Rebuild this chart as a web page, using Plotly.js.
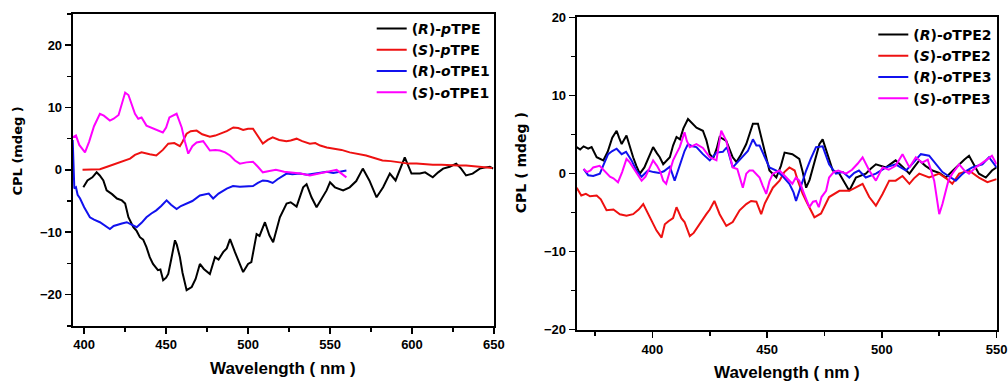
<!DOCTYPE html>
<html>
<head>
<meta charset="utf-8">
<script src="https://cdn.plot.ly/plotly-3.0.1.min.js"></script>
<style>html,body{margin:0;padding:0;background:#fff;}#chart{width:1008px;height:382px;}</style>
</head>
<body>
<div id="chart"></div>
<script>
// ---------- Legend names ----------
const seriesNamesLeft = ['(<i>R</i>)-<i>p</i>TPE', '(<i>S</i>)-<i>p</i>TPE', '(<i>R</i>)-<i>o</i>TPE1', '(<i>S</i>)-<i>o</i>TPE1'];
const seriesNamesRight = ['(<i>R</i>)-<i>o</i>TPE2', '(<i>S</i>)-<i>o</i>TPE2', '(<i>R</i>)-<i>o</i>TPE3', '(<i>S</i>)-<i>o</i>TPE3'];

// ---------- Left panel data ----------
const rpTPE_x = [399.5,402,405,407.6,409.5,411.7,413.7,417,420,423,425,427,430,432,434,436,438,440,442,445,446.5,448.2,450,451.3,453,455.4,456.5,458.4,460,462.5,465.6,468,470.6,473,476.7,479.8,482,484.8,487,489,492,495,497,500,502,505.2,507,510.3,513,515.3,517,519.4,523.5,526,529.6,531.5,533.6,535.7,538.7,541.8,545,547.9,550,553,558,562,566,570,574,578.4,582.4,586.5,590,593,595.6,599.7,604.8,608,612.7,616,619,623,627,630,633,637,641.4,645,647.5,649.5];
const rpTPE_y = [-2.8,-1.7,-1.2,-0.4,-0.9,-1.7,-3.3,-3.9,-4.6,-4.9,-5.4,-7.6,-9.2,-9.8,-10.8,-11.2,-12.4,-14.0,-15.1,-16.1,-16.0,-17.7,-17.3,-16.7,-14.5,-11.3,-12.0,-14.0,-16.5,-19.3,-18.8,-17.5,-15.1,-15.9,-16.7,-14.0,-14.4,-13.2,-12.6,-11.1,-13.2,-15.0,-16.4,-15.1,-14.8,-10.3,-10.6,-8.4,-10.5,-11.6,-10.0,-7.6,-5.4,-5.2,-5.9,-4.5,-2.8,-2.3,-4.4,-6.0,-4.5,-3.3,-2.0,-2.8,-3.3,-2.8,-1.8,0.2,-1.7,-4.4,-2.8,-0.6,-1.7,0.2,2.0,-0.6,-0.6,-0.4,-1.2,-0.4,0.2,0.5,1.0,0.2,-0.9,-0.6,0.2,0.4,0.5,0.2];

const spTPE_x = [399,404,409.6,414,419.8,424,428,431,435,440,444,448,451.3,455,458.4,460,462.5,465,468.6,472,476.7,480,482.8,487,491,494,497,500,503,506,509,512,515,519,523.4,526,529.6,533,537.7,541,544,548,552,557,562,567,572,577,582,587,592.6,598,602.8,607,612.7,618,623,628,633,637,641,645,649];
const spTPE_y = [0,0,0.1,0.5,1.0,1.4,1.8,2.4,2.8,2.5,2.3,3.2,4.2,4.3,3.8,4.5,5.8,6.2,6.3,5.7,5.3,5.5,5.8,6.2,6.8,6.7,6.4,6.6,6.6,5.5,4.2,4.8,5.2,4.8,4.6,4.7,5.0,4.6,4.2,4.3,3.9,3.6,3.4,3.2,2.8,2.6,2.3,1.9,1.5,1.4,1.2,1.0,1.0,0.9,0.8,0.8,0.7,0.7,0.7,0.6,0.5,0.4,0.3];

const roTPE1_x = [393,393.5,394,395,396,397.5,400,403.5,406,409.6,412,415.7,418,419.8,423,426,429,432,435,438,441,444,447,450.3,453,456.4,459,462.5,466,470.6,474,476,478.7,482,487,490.8,495,499,503,506,509,512,515,518,523.5,527,531.6,536,540,544,548,552,556,560];
const roTPE1_y = [4.8,0,-3.0,-2.8,-4.0,-4.6,-6.0,-7.6,-8.0,-8.4,-8.8,-9.5,-9.0,-8.9,-8.6,-8.4,-8.8,-9.2,-8.5,-7.6,-7.0,-6.5,-5.8,-4.9,-5.6,-6.3,-5.8,-5.4,-5.0,-4.1,-3.9,-3.8,-4.6,-3.8,-3.0,-2.6,-2.7,-2.6,-2.6,-2.1,-1.7,-1.8,-2.1,-1.5,-0.6,-0.7,-0.6,-0.8,-0.6,-0.5,-0.3,-0.5,-0.3,-0.1];

const soTPE1_x = [393,395,397,400.5,403,406,409.6,412,415.7,418,421,423,425,427,429,431,433,435,438,441,445,448,450,452,456.4,458,459.5,461.5,463.5,466,468.6,472.6,474.5,476.7,480,482.8,486,489,492,495,499,503,506,509,513,517,522,527.5,532,537.7,541,545.6,550,554,556,558,560];
const soTPE1_y = [5.2,5.5,4.0,2.8,4.5,7.0,9.0,8.7,7.9,8.2,8.8,10.5,12.4,12.0,10.5,9.0,8.2,8.4,7.1,6.8,6.3,6.0,6.8,8.4,9.0,8.0,6.8,4.5,2.6,3.8,4.4,4.6,3.8,3.1,3.2,3.1,2.8,2.3,1.5,1.0,1.2,1.3,0.5,-0.4,-0.2,0,-0.3,-0.4,-0.6,-0.9,-0.7,-0.4,-0.2,0,-0.4,-0.8,-1.2];

// ---------- Right panel data ----------
const roTPE2_x = [367,368.5,370,372,373.5,375.7,378.6,380.5,382.5,384.4,385.5,386.6,388.7,390,391.6,393,394.5,396.5,398.5,400.3,402,403.2,404.7,406,407.6,409,410.5,412,413.5,415.5,417,419.2,422,423.5,425,426.5,428,429.3,432.2,433.5,435,436.6,438.5,440.9,442.5,443.8,446,448,449.5,451,454,456,457.6,461,464,465.5,467,468.5,470,472.8,474.2,476.4,478.6,481.5,483.5,485.8,488.7,493,495,497.4,501.8,506,509,512,514,516.3,519,522,525,527.9,531,533.7,536,538,540,542.3,545.3,548,550];
const roTPE2_y = [3.4,3.1,3.5,3.2,3.4,2.1,1.7,2.8,4.6,5.5,4.6,3.8,4.9,3.5,2.1,1.0,0,0.8,2.2,3.4,2.6,2.1,1.2,1.6,2.1,3.6,4.7,4.4,5.8,7.0,6.6,5.9,5.5,4.3,2.5,2.0,3.2,4.7,4.2,3.1,2.1,1.5,2.4,3.8,5.2,6.4,6.4,4.2,2.2,0.4,-0.5,1.0,2.7,2.5,1.9,0.2,-1.8,-0.8,0.8,3.8,4.4,2.5,0.4,0,-1.0,-2.2,-0.5,0,0.6,1.2,0.8,1.7,0.9,0,0.8,1.7,1.0,0.4,0.1,-0.5,0.4,1.2,1.8,2.3,1.2,0,-0.5,0.4,0.8];

const soTPE2_x = [367,369,371,372.8,375.7,377.5,380,383,385.8,388.7,391.6,394,396,397.5,398.9,400.5,401.8,404,405.4,407,409,410.5,412.6,414,416.3,418,420.6,423.5,425,427,429.3,432.2,435,438,440.9,443,445.3,447.4,449,450.5,452.5,455.4,457.5,459.7,462,463.5,465.5,467,470.6,473.5,477,481.5,485.8,488.5,491.6,494.5,497.4,500.3,503.2,506,509,512,514,516.3,520.6,525,528,530.7,533.7,538,542.3,546,548,550];
const soTPE2_y = [-1.8,-2.8,-2.6,-2.9,-2.8,-3.3,-4.7,-4.6,-5.2,-5.4,-5.2,-4.6,-3.9,-4.8,-5.7,-6.6,-7.3,-8.2,-6.5,-6.1,-5.7,-4.3,-5.7,-6.2,-8.0,-7.6,-6.4,-5.2,-4.6,-3.5,-5.2,-6.7,-6.2,-4.7,-3.9,-3.5,-3.6,-5.2,-3.8,-3.0,-1.8,-0.9,0.2,0.8,0.4,-1.0,-2.6,-3.5,-5.6,-5.1,-3.0,-2.2,-2.2,-1.8,-1.3,-3.0,-4.1,-2.6,-0.9,-0.9,-0.3,-1.3,-0.6,0,-0.5,0,-0.6,-1.3,0,0.4,-0.5,-1.1,-0.9,-0.7];

const roTPE3_x = [370,372,374.2,377.1,378.5,380.7,382.5,384.4,386.6,388.5,390.9,393,395.3,398,400.5,403,405,407.6,409.7,411,412.6,414,415.5,417.5,419.2,422,425,427.9,430.7,432.5,435,438,441.6,443.8,445.3,446.7,448.5,451,454,457,459.7,461.5,462.6,464,465.5,467,469,471.3,474.2,475.5,477,480,483,485.8,488,490,493,497.4,501.8,506,510.5,512.5,514.8,517,520.6,523.5,526.4,529,532.2,534.5,536.5,539.4,543.8,546.7,548.5,550];
const roTPE3_y = [0.6,-0.2,-0.3,0,1.0,2.5,2.9,3.2,2.5,2.8,1.7,0.4,-0.4,0.4,0.2,0.1,0.3,0.9,-0.9,0.3,1.7,2.9,3.8,3.5,3.4,2.5,1.7,2.7,2.8,3.4,0.8,1.7,2.9,4.4,3.6,3.6,2.4,0.8,0.4,-0.4,-1.3,-2.4,-3.5,-2.2,-0.9,0.4,1.9,3.4,3.5,2.4,1.2,0,0.2,-0.5,0.1,0.4,-0.5,0,0.8,1.2,0.4,1.0,1.7,2.5,2.3,1.2,0.2,-0.3,-0.9,-0.2,0.3,0.8,1.2,2.1,1.4,0.8];

const soTPE3_x = [370,371.5,373,374.2,377,379,381.5,383,385,386.8,388.7,390,391.6,393.5,395.3,397,398.5,400.3,402,403.5,404.7,406,407.5,409,410.5,411.9,413,414,415,416.3,419.2,422,425,427.9,429,430,432.2,433.5,435,437,439.4,440.9,442.3,443.8,445.3,446.7,448,449.6,451,452.5,455.4,458,461,462.5,464,466,468.4,470,471.3,472.5,473.7,475.7,477,479,481,484.4,487,489.5,491.6,494.5,497.4,500.3,503,506,509,512,514.8,517.5,520,522.8,524,525,526.4,527.9,529,530.7,533.7,536,538,540.9,543,545.3,548,550];
const soTPE3_y = [0.6,0.2,0.4,0.8,1.0,0.4,-0.4,-0.6,-1.1,0.2,1.9,1.5,0.8,0,-0.9,-0.4,0.6,1.7,1.0,0.2,-0.9,-1.3,0.2,1.7,2.6,3.4,4.4,5.3,4.2,3.4,3.8,3.3,2.1,1.7,3.8,5.5,4.2,2.5,0.8,0.6,-1.8,0,0.4,0.4,0,-0.5,-1.5,-2.6,-1.0,0,0.4,-0.4,-1.3,-0.5,-0.9,-2.5,-4.3,-3.6,-3.5,-4.3,-3.0,-2.2,-0.5,0.2,0.4,0,0.5,1.3,2.1,0.4,-0.9,0.8,0.5,1.0,2.5,0.8,2.1,1.4,1.8,-0.9,-3.0,-5.2,-3.9,-2.2,-0.9,0,1.2,0.4,0,0.8,1.2,1.7,2.3,1.2];

// Axis tick values
const leftXTicks = [400, 450, 500, 550, 600, 650];
const leftYTicks = [-20, -10, 0, 10, 20];
const rightXTicks = [400, 450, 500, 550];
const rightYTicks = [-20, -10, 0, 10, 20];

const colors = ['#000000', '#ee1111', '#1111ee', '#ff00ff'];

const leftSeries = [[rpTPE_x, rpTPE_y], [spTPE_x, spTPE_y], [roTPE1_x, roTPE1_y], [soTPE1_x, soTPE1_y]];
const rightSeries = [[roTPE2_x, roTPE2_y], [soTPE2_x, soTPE2_y], [roTPE3_x, roTPE3_y], [soTPE3_x, soTPE3_y]];

const traces = [];
leftSeries.forEach((s, i) => traces.push({
  x: s[0], y: s[1], type: 'scatter', mode: 'lines', name: seriesNamesLeft[i],
  line: {color: colors[i], width: 2}, xaxis: 'x', yaxis: 'y', legend: 'legend'
}));
rightSeries.forEach((s, i) => traces.push({
  x: s[0], y: s[1], type: 'scatter', mode: 'lines', name: seriesNamesRight[i],
  line: {color: colors[i], width: 2}, xaxis: 'x2', yaxis: 'y2', legend: 'legend2'
}));

const W = 1008, H = 382;
// plot-area frames in pixels (layout only)
const leftBox = {l: 72.7, r: 494, t: 14, b: 325.7};
const rightBox = {l: 576.7, r: 996.7, t: 17.3, b: 330};

const tickFont = {family: 'Liberation Sans, Arial, sans-serif', size: 13, weight: 'bold', color: '#000'};
const minorStyle = {ticks: 'outside', ticklen: 4, tickwidth: 1.6, tickcolor: '#000', showgrid: false};
function axisBase(extra) {
  return Object.assign({
    showline: true, linecolor: '#000', linewidth: 2, mirror: true,
    ticks: 'outside', ticklen: 6, tickwidth: 1.6, tickcolor: '#000',
    showgrid: false, zeroline: false, tickfont: tickFont, fixedrange: true
  }, extra);
}

const legendFont = {family: 'DejaVu Sans, sans-serif', size: 14, weight: 'bold', color: '#000'};
const titleFontX = {family: 'Liberation Sans, Arial, sans-serif', size: 17, weight: 'bold', color: '#000'};
const titleFontY = {family: 'DejaVu Sans, sans-serif', size: 13, weight: 'bold', color: '#000'};

const layout = {
  width: W, height: H,
  margin: {l: 0, r: 0, t: 0, b: 0, pad: 0},
  paper_bgcolor: '#fff', plot_bgcolor: '#fff',
  showlegend: true,
  xaxis: axisBase({domain: [leftBox.l / W, leftBox.r / W], range: [393, 650.05], tickvals: leftXTicks, minor: Object.assign({dtick: 25, tick0: 400}, minorStyle), anchor: 'y'}),
  yaxis: axisBase({domain: [1 - leftBox.b / H, 1 - leftBox.t / H], range: [-25, 25], tickvals: leftYTicks, minor: Object.assign({dtick: 5, tick0: 0}, minorStyle), anchor: 'x'}),
  xaxis2: axisBase({domain: [rightBox.l / W, rightBox.r / W], range: [367, 550.05], tickvals: rightXTicks, minor: Object.assign({dtick: 25, tick0: 400}, minorStyle), anchor: 'y2'}),
  yaxis2: axisBase({domain: [1 - rightBox.b / H, 1 - rightBox.t / H], range: [-20.05, 20.05], tickvals: rightYTicks, minor: Object.assign({dtick: 5, tick0: 0}, minorStyle), anchor: 'x2'}),
  legend: {x: 371.7 / W, y: 1 - 13 / H, xanchor: 'left', yanchor: 'top', bgcolor: 'rgba(0,0,0,0)', borderwidth: 0, font: legendFont, tracegroupgap: 0},
  legend2: {x: 873.3 / W, y: 1 - 19 / H, xanchor: 'left', yanchor: 'top', bgcolor: 'rgba(0,0,0,0)', borderwidth: 0, font: legendFont, tracegroupgap: 0},
  annotations: [
    {text: 'Wavelength ( nm )', xref: 'paper', yref: 'paper', x: 283.3 / W, y: 1 - 368 / H, xanchor: 'center', yanchor: 'middle', showarrow: false, font: titleFontX},
    {text: 'Wavelength ( nm )', xref: 'paper', yref: 'paper', x: 786.7 / W, y: 1 - 372.7 / H, xanchor: 'center', yanchor: 'middle', showarrow: false, font: titleFontX},
    {text: 'CPL (mdeg )', xref: 'paper', yref: 'paper', x: 17 / W, y: 1 - 151.5 / H, xanchor: 'center', yanchor: 'middle', textangle: -90, showarrow: false, font: titleFontY},
    {text: 'CPL ( mdeg )', xref: 'paper', yref: 'paper', x: 520.7 / W, y: 1 - 162.5 / H, xanchor: 'center', yanchor: 'middle', textangle: -90, showarrow: false, font: Object.assign({}, titleFontY, {size: 14})}
  ]
};

Plotly.newPlot('chart', traces, layout, {displayModeBar: false, staticPlot: true});
</script>
</body>
</html>
